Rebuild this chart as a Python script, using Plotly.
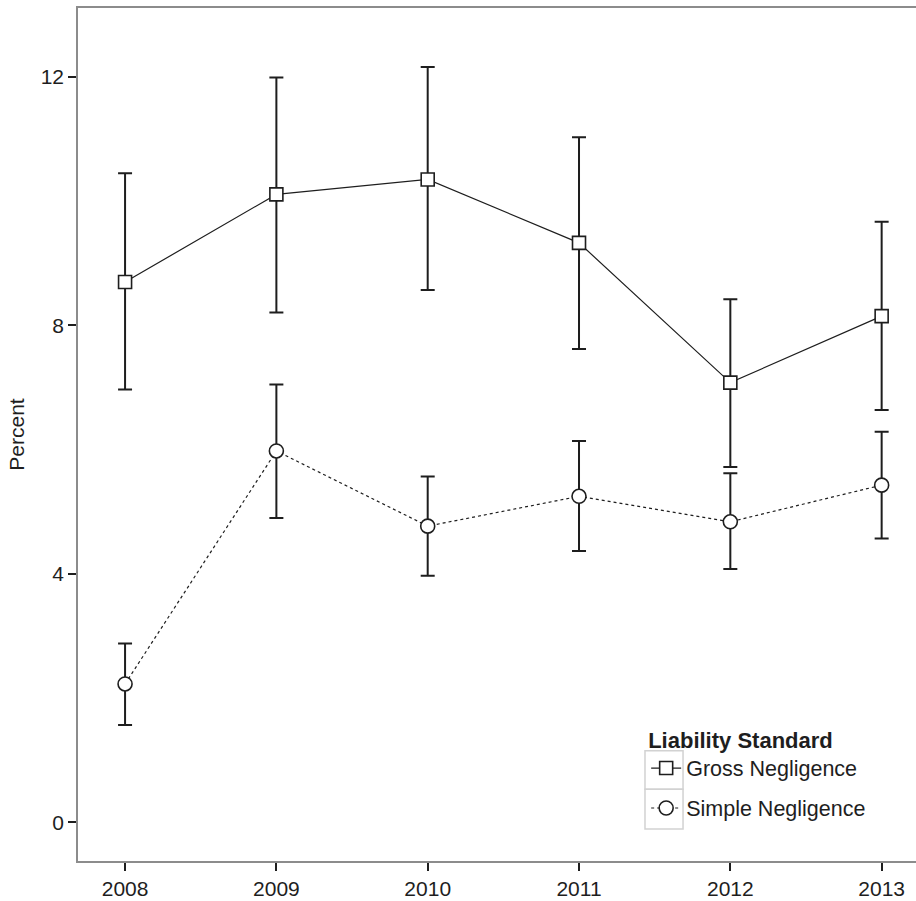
import plotly.graph_objects as go

years = [2008, 2009, 2010, 2011, 2012, 2013]

gross = [8.70, 10.11, 10.35, 9.33, 7.08, 8.15]
gross_hi = [10.45, 11.99, 12.16, 11.03, 8.42, 9.67]
gross_lo = [6.97, 8.21, 8.57, 7.62, 5.72, 6.64]

simple = [2.23, 5.98, 4.77, 5.25, 4.84, 5.43]
simple_hi = [2.88, 7.05, 5.57, 6.14, 5.62, 6.29]
simple_lo = [1.57, 4.90, 3.97, 4.37, 4.08, 4.57]

y_ticks = [0, 4, 8, 12]

FONT = "Liberation Sans, Arial, sans-serif"
INK = "#1e1e1e"
FRAME = "#8c8c8c"
KEYBOX = "#d2d2d2"


def err(vals, hi, lo):
    return dict(
        type="data", symmetric=False,
        array=[h - v for h, v in zip(hi, vals)],
        arrayminus=[v - l for v, l in zip(vals, lo)],
        color=INK, thickness=2, width=7,
    )


fig = go.Figure()
fig.add_trace(go.Scatter(
    x=years, y=gross, name="Gross Negligence", mode="lines+markers",
    legendgroup="gross",
    line=dict(color=INK, width=1.2, dash="solid"),
    marker=dict(symbol="square", size=13, color="white",
                line=dict(color=INK, width=1.6)),
    error_y=err(gross, gross_hi, gross_lo),
))
fig.add_trace(go.Scatter(
    x=years, y=simple, name="Simple Negligence", mode="lines+markers",
    legendgroup="simple",
    line=dict(color=INK, width=1.2, dash="dot"),
    marker=dict(symbol="circle", size=14, color="white",
                line=dict(color=INK, width=1.6)),
    error_y=err(simple, simple_hi, simple_lo),
))

# grey key boxes behind the legend glyphs
key_x = (0.6766, 0.7220)
key_rows = [0.1293, 0.0841, 0.0375]
shapes = [
    dict(type="rect", xref="paper", yref="paper",
         x0=key_x[0], x1=key_x[1], y0=key_rows[i + 1], y1=key_rows[i],
         line=dict(color=KEYBOX, width=1.5), fillcolor="white", layer="below")
    for i in range(2)
]

fig.update_layout(
    width=916, height=901,
    margin=dict(l=78, r=0, t=8, b=40),
    paper_bgcolor="white", plot_bgcolor="white",
    font=dict(family=FONT, size=21, color=INK),
    showlegend=True,
    shapes=shapes,
    legend=dict(
        title=dict(text="<b>Liability Standard</b>", font=dict(size=22)),
        font=dict(size=21.5),
        x=0.678, y=0.1665, xanchor="left", yanchor="top",
        bgcolor="rgba(0,0,0,0)", tracegroupgap=9,
        itemwidth=30,
    ),
    xaxis=dict(
        range=[2007.689, 2013.227], tickvals=years,
        showgrid=False, zeroline=False,
        showline=True, linecolor=FRAME, linewidth=1.5, mirror=True,
        ticks="outside", ticklen=8, tickwidth=1.5, tickcolor=INK,
        tickfont=dict(size=21),
    ),
    yaxis=dict(
        range=[-0.62, 13.11], tickvals=y_ticks,
        showgrid=False, zeroline=False,
        showline=True, linecolor=FRAME, linewidth=1.5,
        ticks="outside", ticklen=8, tickwidth=1.5, tickcolor=INK,
        tickfont=dict(size=21),
        title=dict(text="Percent", font=dict(size=21), standoff=10),
    ),
)

fig.write_html("out.html")
